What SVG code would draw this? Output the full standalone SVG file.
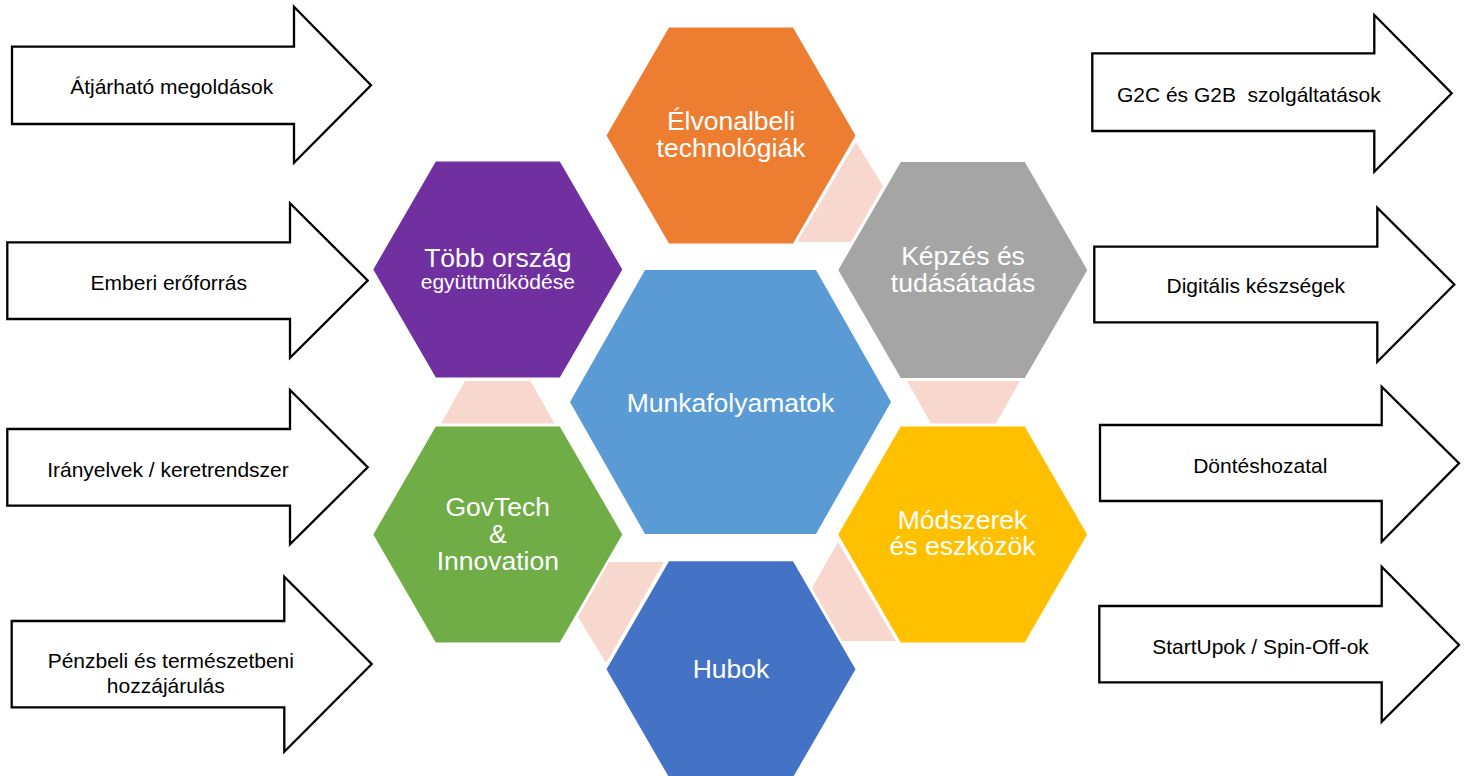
<svg xmlns="http://www.w3.org/2000/svg" width="1467" height="776" viewBox="0 0 1467 776">
<style>
.arr{fill:#fff;stroke:#000;stroke-width:2.3;stroke-linejoin:miter}
.at{font-family:"Liberation Sans",Arial,sans-serif;font-size:21px;fill:#000;text-anchor:middle;white-space:pre}
.ht{font-family:"Liberation Sans",Arial,sans-serif;font-size:26.5px;fill:#fff;text-anchor:middle}
.hs{font-size:21px}
.pk{fill:#F8D8CE}
</style>
<rect width="1467" height="776" fill="#fff"/>
<g id="connectors">
<polygon class="pk" points="856,142 883,186 851,242 797,242"/>
<polygon class="pk" points="465,381 530.5,381 554.5,423.5 441,423.5"/>
<polygon class="pk" points="907,381 1020,381 996,423.5 931,423.5"/>
<polygon class="pk" points="609,562 664,562 606,663 578,617"/>
<polygon class="pk" points="838,542 896,641 842,641 812,588"/>
</g>
<g id="hex-orange"><polygon fill="#ED7D31" points="606.5,135.5 669,27.5 793,27.5 855.5,135.5 793,243.5 669,243.5"/>
<text class="ht" x="731" y="129.5">Élvonalbeli</text><text class="ht" x="731" y="157">technológiák</text></g>
<g id="hex-purple"><polygon fill="#7030A0" points="373.3,269.5 435.8,161.5 559.8,161.5 622.3,269.5 559.8,377.5 435.8,377.5"/>
<text class="ht" x="497.8" y="266.5">Több ország</text><text class="ht hs" x="497.8" y="288.5">együttműködése</text></g>
<g id="hex-gray"><polygon fill="#A5A5A5" points="838.3,270 900.8,162 1024.8,162 1087.3,270 1024.8,378 900.8,378"/>
<text class="ht" x="963" y="265">Képzés és</text><text class="ht" x="963" y="291.5">tudásátadás</text></g>
<g id="hex-center"><polygon fill="#5B9BD5" points="570,402 645,270 816,270 891,402 816,534 645,534"/>
<text class="ht" x="730.5" y="411.5">Munkafolyamatok</text></g>
<g id="hex-green"><polygon fill="#70AD47" points="373.3,534.5 435.8,426.5 559.8,426.5 622.3,534.5 559.8,642.5 435.8,642.5"/>
<text class="ht" x="497.8" y="516">GovTech</text><text class="ht" x="497.8" y="543">&amp;</text><text class="ht" x="497.8" y="570">Innovation</text></g>
<g id="hex-yellow"><polygon fill="#FFC000" points="838.2,534.5 900.7,426.5 1024.7,426.5 1087.2,534.5 1024.7,642.5 900.7,642.5"/>
<text class="ht" x="962.5" y="528.5">Módszerek</text><text class="ht" x="962.5" y="555">és eszközök</text></g>
<g id="hex-hubok"><polygon fill="#4472C4" points="606.5,669.3 669,561.3 793,561.3 855.5,669.3 793,777.3 669,777.3"/>
<text class="ht" x="731" y="678.3">Hubok</text></g>
<g id="arrow-1"><polygon class="arr" points="12,46.7 294,46.7 294,6.7 371,85.3 294,162.7 294,124 12,124"/>
<text class="at" x="171.7" y="94.3">Átjárható megoldások</text></g>
<g id="arrow-2"><polygon class="arr" points="7.3,242.3 290,242.3 290,203.3 367.7,280.5 290,357.7 290,319 7.3,319"/>
<text class="at" x="168.8" y="290">Emberi erőforrás</text></g>
<g id="arrow-3"><polygon class="arr" points="7.3,429 290,429 290,390 367.7,467.3 290,544.3 290,505.7 7.3,505.7"/>
<text class="at" x="168" y="476.7">Irányelvek / keretrendszer</text></g>
<g id="arrow-4"><polygon class="arr" points="11.7,621 284.3,621 284.3,576.7 371.7,664 284.3,751.7 284.3,707.3 11.7,707.3"/>
<text class="at" x="170.8" y="668.3">Pénzbeli és természetbeni</text><text class="at" x="165.8" y="692.7">hozzájárulás</text></g>
<g id="arrow-5"><polygon class="arr" points="1092.3,53.3 1374.3,53.3 1374.3,15 1451.7,93.3 1374.3,171.7 1374.3,131 1092.3,131"/>
<text class="at" x="1248.8" y="101.7">G2C és G2B  szolgáltatások</text></g>
<g id="arrow-6"><polygon class="arr" points="1094.3,246.7 1377.3,246.7 1377.3,207.7 1454.3,284.5 1377.3,361.7 1377.3,322.3 1094.3,322.3"/>
<text class="at" x="1255.8" y="292.7">Digitális készségek</text></g>
<g id="arrow-7"><polygon class="arr" points="1100,425 1381.7,425 1381.7,386.7 1459,463.3 1381.7,541.7 1381.7,501 1100,501"/>
<text class="at" x="1260.3" y="472.7">Döntéshozatal</text></g>
<g id="arrow-8"><polygon class="arr" points="1099.3,606 1381.7,606 1381.7,566.7 1459,645 1381.7,721.7 1381.7,682.3 1099.3,682.3"/>
<text class="at" x="1260.5" y="654">StartUpok / Spin-Off-ok</text></g>
</svg>
